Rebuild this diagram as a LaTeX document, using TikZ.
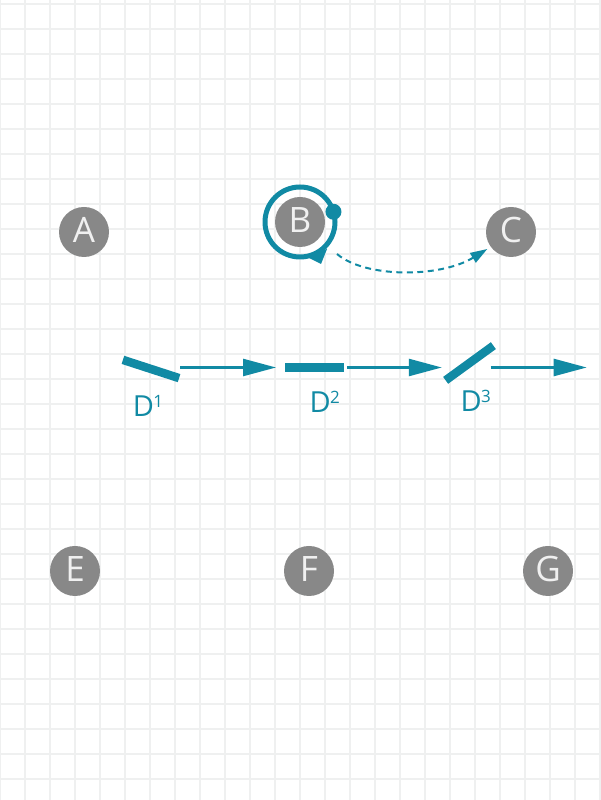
\documentclass[tikz,border=0pt]{standalone}
\usepackage{fontspec}
\setmainfont{Open Sans}
\usetikzlibrary{arrows.meta,calc}
\definecolor{tealc}{RGB}{17,138,164}
\definecolor{nodegray}{RGB}{136,136,136}
\definecolor{gridc}{RGB}{239,240,240}
\definecolor{txtc}{RGB}{240,240,240}
\newcommand{\mysup}[1]{\kern-0.6pt\raisebox{9.6pt}{\fontsize{17}{17}\selectfont #1}}
\begin{document}
\begin{tikzpicture}[x=1pt,y=1pt,
  gridline/.style={gridc, line width=1.6pt},
  vert/.style={circle, fill=nodegray, minimum size=50pt, inner sep=0pt, text=txtc,
    font=\fontsize{35}{35}\selectfont, text depth=4pt},
  bar/.style={fill=tealc, minimum width=59pt, minimum height=8.5pt, inner sep=0pt},
  arr/.style={tealc, line width=2.5pt, -{Triangle[length=33pt,width=17pt]}},
  dashline/.style={tealc, line width=2pt, dash pattern=on 6pt off 4.5pt,
    -{Triangle[length=17pt,width=11pt]}},
  dlabel/.style={text=tealc, font=\fontsize{29}{29}\selectfont, anchor=base, inner sep=0pt}]
\useasboundingbox (0,0) rectangle (600,800);
\fill[white] (0,0) rectangle (600,800);
% grid
\foreach \x in {0,25,...,600} \draw[gridline] (\x,0) -- (\x,800);
\foreach \y in {21,46,...,796} \draw[gridline] (0,\y) -- (600,\y);
% vertices
\node[vert] (A) at (84,568) {A};
\node[vert] (B) at (300,578) {B};
\node[vert] (C) at (511,568) {C};
\node[vert] (E) at (75,229) {E};
\node[vert] (F) at (309,229) {F};
\node[vert] (G) at (548,229) {G};
% ring around B
\draw[tealc, line width=5pt] (B.center) circle[radius=35];
\fill[tealc] ($(B.center)+(17:35)$) circle[radius=8];
\fill[tealc] ($(B.center)+(5,-34)$) -- ($(B.center)+(27,-27)$) -- ($(B.center)+(21,-42)$) -- cycle;
% dashed curve B -> C
\draw[dashline] ($(B.center)+(37,-32)$) .. controls ($(B.center)+(65,-56)$) and ($(C.center)+(-71,-46)$) .. ($(C.center)+(-23.7,-17)$);
% bars
\node[bar, rotate=-18] (d1) at (151,431) {};
\node[bar] (d2) at (314,432.5) {};
\node[bar, rotate=36] (d3) at (469.5,437) {};
\coordinate (end) at (586.7,432.5);
% labels
\node[dlabel] (l1) at (148,383) {D\mysup{1}};
\node[dlabel] (l2) at (324.7,387.3) {D\mysup{2}};
\node[dlabel] (l3) at (475.8,388.3) {D\mysup{3}};
% arrows
\draw[arr] ($(d1.east |- d2.center)+(1.2,0)$) -- ($(d2.west)+(-8.3,0)$);
\draw[arr] ($(d2.east)+(3.7,0)$) -- ($(d3.west |- d2.center)+(-3.7,0)$);
\draw[arr] ($(d3.east |- d2.center)+(-3,0)$) -- (end);
\end{tikzpicture}
\end{document}
